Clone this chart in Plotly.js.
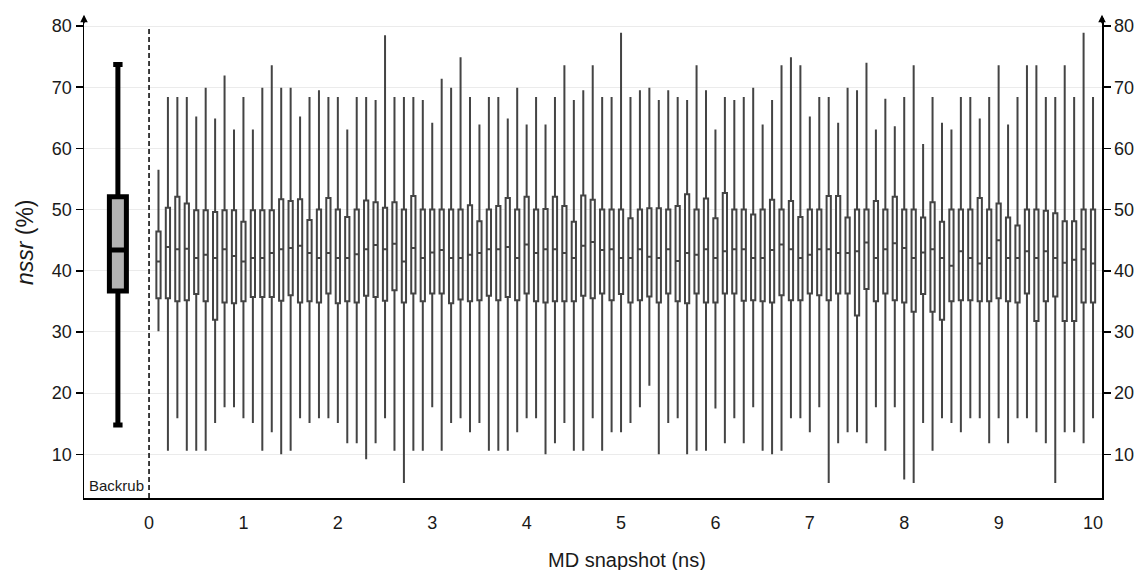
<!DOCTYPE html>
<html>
<head>
<meta charset="utf-8">
<script src="https://cdn.plot.ly/plotly-3.0.1.min.js"></script>
<style>html,body{margin:0;padding:0;background:#fff;}#chart{width:1138px;height:570px;}</style>
</head>
<body>
<div id="chart"></div>
<script>
// MD snapshot times (ns)
const snapshotTimes = [0.1,0.2,0.3,0.4,0.5,0.6,0.7,0.8,0.9,1.0,
  1.1,1.2,1.3,1.4,1.5,1.6,1.7,1.8,1.9,2.0,
  2.1,2.2,2.3,2.4,2.5,2.6,2.7,2.8,2.9,3.0,
  3.1,3.2,3.3,3.4,3.5,3.6,3.7,3.8,3.9,4.0,
  4.1,4.2,4.3,4.4,4.5,4.6,4.7,4.8,4.9,5.0,
  5.1,5.2,5.3,5.4,5.5,5.6,5.7,5.8,5.9,6.0,
  6.1,6.2,6.3,6.4,6.5,6.6,6.7,6.8,6.9,7.0,
  7.1,7.2,7.3,7.4,7.5,7.6,7.7,7.8,7.9,8.0,
  8.1,8.2,8.3,8.4,8.5,8.6,8.7,8.8,8.9,9.0,
  9.1,9.2,9.3,9.4,9.5,9.6,9.7,9.8,9.9,10.0];

const maxVals = [56.5,68.4,68.4,68.4,65.2,69.9,64.9,71.9,63.1,68.4,
  63.1,69.9,73.6,69.9,69.9,65.2,68.4,69.5,68.4,68.4,
  63.1,68.4,68.4,67.9,78.5,68.4,68.4,68.4,67.9,64.2,
  71.4,69.9,74.9,68.4,63.9,68.4,68.4,64.9,69.9,63.9,
  68.4,63.9,68.4,73.6,67.9,69.5,73.6,68.4,68.4,78.9,
  68.4,69.5,69.9,67.9,69.5,68.4,67.9,73.6,69.5,63.1,
  68.4,67.9,68.4,69.9,63.9,67.9,73.6,74.9,73.6,65.2,
  68.4,68.4,64.2,69.9,69.5,74.0,63.1,68.1,63.6,68.4,
  73.6,60.7,68.4,64.2,63.1,68.4,68.4,64.9,68.4,73.6,
  63.9,68.4,73.6,73.6,68.4,68.4,73.6,68.4,78.9,68.4];

const q3Vals = [46.4,50.3,52.1,51.0,49.9,49.9,49.6,49.9,49.9,48.0,
  49.9,49.9,49.9,51.7,51.4,51.7,48.3,50.0,51.9,50.0,
  48.8,50.0,51.5,51.2,50.3,51.2,50.0,52.2,50.0,50.0,
  50.0,50.0,50.0,50.7,48.1,50.0,50.6,51.9,50.0,52.1,
  50.0,50.1,52.1,50.6,48.0,52.3,51.6,50.0,50.0,50.0,
  48.6,50.0,50.2,50.2,50.0,50.6,52.5,50.0,51.8,48.6,
  52.7,50.0,50.0,49.2,50.0,51.6,50.0,51.4,48.8,50.0,
  50.0,52.2,52.2,48.7,50.0,50.0,51.4,50.0,52.1,50.0,
  50.0,48.7,51.2,48.0,50.0,50.0,50.0,51.9,50.0,51.0,
  48.7,47.4,50.0,50.0,49.8,49.4,48.1,48.1,50.0,50.0];

const medianVals = [41.5,43.9,43.5,43.6,42.1,42.6,42.1,43.5,42.4,41.5,
  42.1,42.1,42.9,43.5,43.7,44.1,42.9,42.1,42.9,42.1,
  42.1,42.7,43.5,44.2,43.5,44.4,41.5,43.7,42.1,43.0,
  43.4,42.1,42.1,42.6,42.9,43.5,43.5,43.9,42.1,44.3,
  42.9,43.5,43.5,42.9,42.1,44.1,44.7,43.4,43.5,42.1,
  42.1,43.5,42.3,42.1,43.5,41.6,42.9,42.6,43.5,42.1,
  43.2,43.5,43.5,42.1,42.1,43.4,44.3,43.5,42.1,42.6,
  43.5,43.5,42.9,42.9,43.2,44.6,42.1,43.5,44.5,43.7,
  42.1,43.0,43.5,42.1,40.8,43.2,42.1,41.2,42.1,45.0,
  42.1,42.1,43.2,42.1,43.2,42.1,41.3,41.8,43.5,41.2];

const q1Vals = [35.5,35.5,35.0,35.2,36.2,35.0,32.0,34.8,34.7,35.0,
  35.7,35.7,35.7,35.1,36.0,34.8,35.0,34.8,36.3,34.7,
  35.0,34.8,35.9,35.7,35.1,36.8,34.8,36.3,35.0,36.3,
  36.3,34.7,35.3,35.0,35.2,35.9,35.2,35.7,35.2,36.3,
  35.0,34.8,35.0,35.0,35.0,35.9,35.5,36.3,35.2,36.2,
  34.8,35.2,35.8,34.8,36.3,35.0,34.7,36.3,34.8,34.8,
  36.3,36.3,35.1,35.2,35.0,34.8,36.0,35.2,35.2,36.3,
  36.0,35.2,36.3,36.3,32.7,37.0,35.0,36.3,35.2,34.8,
  33.3,36.2,33.3,32.0,35.0,35.2,35.2,35.0,35.0,35.5,
  35.0,34.8,36.3,31.8,35.0,35.8,31.8,31.8,34.8,34.8];

const minVals = [30.1,10.6,15.9,10.6,10.6,10.6,15.1,17.7,17.7,15.9,
  15.1,10.6,13.6,10.0,10.6,15.9,15.1,15.9,15.9,15.1,
  11.8,11.8,9.2,11.8,15.9,10.6,5.3,10.6,10.6,17.7,
  10.6,15.1,15.9,13.6,15.1,10.6,10.6,10.6,13.6,15.9,
  15.9,10.0,11.8,15.1,10.6,10.6,15.9,10.6,13.6,13.6,
  15.1,17.7,21.2,10.0,15.1,15.9,10.0,10.6,10.6,17.5,
  11.8,15.9,11.8,17.7,10.6,10.0,10.6,15.9,15.9,13.6,
  17.7,5.3,11.8,13.6,13.6,11.8,17.7,10.6,17.7,5.9,
  5.3,15.1,10.6,15.9,15.1,13.6,15.9,15.9,11.8,15.9,
  11.8,15.9,15.9,13.6,11.8,5.3,13.6,13.6,11.8,15.9];

// Backrub reference ensemble
const backrubLabel = ["Backrub"];
const backrubPos = [-0.33];
const backrubMax = [73.7];
const backrubQ3 = [52.1];
const backrubMedian = [43.4];
const backrubQ1 = [36.7];
const backrubMin = [14.8];

const xTicks = [0,1,2,3,4,5,6,7,8,9,10];
const yTicks = [10,20,30,40,50,60,70,80];
const yRange = [2.86, 81.31];

const traces = [
  {
    type: 'box',
    x: snapshotTimes,
    q1: q1Vals, median: medianVals, q3: q3Vals,
    lowerfence: minVals, upperfence: maxVals,
    boxpoints: false,
    width: 0.045,
    whiskerwidth: 0,
    line: {color: '#444444', width: 2},
    fillcolor: '#ffffff',
    hoverinfo: 'skip',
    showlegend: false
  },
  {
    type: 'box',
    x: backrubPos,
    q1: backrubQ1, median: backrubMedian, q3: backrubQ3,
    lowerfence: backrubMin, upperfence: backrubMax,
    boxpoints: false,
    width: 0.18,
    whiskerwidth: 0.55,
    line: {color: '#000000', width: 5},
    fillcolor: '#b3b3b3',
    hoverinfo: 'skip',
    showlegend: false
  },
  {
    type: 'scatter', x: [], y: [], yaxis: 'y2', hoverinfo: 'skip', showlegend: false
  }
];

const layout = {
  width: 1138, height: 570,
  margin: {l: 84, r: 36, t: 18, b: 72, pad: 0},
  paper_bgcolor: '#ffffff', plot_bgcolor: '#ffffff',
  font: {family: 'Liberation Sans, Arial, sans-serif', color: '#000000', size: 18},
  showlegend: false,
  boxmode: 'overlay',
  xaxis: {
    range: [-0.689, 10.095],
    tickvals: xTicks,
    ticks: '',
    ticklabelstandoff: 8,
    showgrid: false, zeroline: false,
    showline: true, linecolor: '#000000', linewidth: 1.5,
    tickfont: {size: 18, color: '#1a1a1a'}
  },
  yaxis: {
    range: yRange,
    tickvals: yTicks,
    ticks: 'outside', ticklen: 7, tickwidth: 1.5, tickcolor: '#000000',
    showgrid: true, gridcolor: '#ebebeb', gridwidth: 1,
    zeroline: false,
    showline: true, linecolor: '#000000', linewidth: 1.5,
    tickfont: {size: 18, color: '#1a1a1a'}
  },
  yaxis2: {
    range: yRange,
    overlaying: 'y', side: 'right', anchor: 'x',
    tickvals: yTicks,
    ticks: 'outside', ticklen: 7, tickwidth: 1.5, tickcolor: '#000000',
    showgrid: false, zeroline: false,
    showline: true, linecolor: '#000000', linewidth: 1.5,
    tickfont: {size: 18, color: '#1a1a1a'}
  },
  shapes: [
    {type: 'line', xref: 'x', yref: 'y', x0: 0, x1: 0, y0: yRange[0], y1: 80,
     line: {color: '#000000', width: 1.5, dash: '5px,3px'}}
  ],
  annotations: [
    {xref: 'x', yref: 'paper', x: backrubPos[0] - 0.02, y: 0.027, text: backrubLabel[0],
     showarrow: false, xanchor: 'center', yanchor: 'middle',
     font: {size: 15, color: '#1a1a1a'}},
    {xref: 'paper', yref: 'paper', x: 0.533, y: -0.129, text: 'MD snapshot (ns)',
     showarrow: false, xanchor: 'center', yanchor: 'middle',
     font: {size: 20, color: '#1a1a1a'}},
    {xref: 'paper', yref: 'paper', x: -0.058, y: 0.533, text: '<i>nssr</i> (%)',
     textangle: -90, showarrow: false, xanchor: 'center', yanchor: 'middle',
     font: {size: 23, color: '#1a1a1a'}},
    {xref: 'paper', yref: 'paper', x: 0, y: 1.007, text: '', showarrow: true,
     ax: 0, ay: 10, arrowhead: 2, arrowsize: 1, arrowwidth: 1.5, arrowcolor: '#000000'},
    {xref: 'paper', yref: 'paper', x: 1, y: 1.007, text: '', showarrow: true,
     ax: 0, ay: 10, arrowhead: 2, arrowsize: 1, arrowwidth: 1.5, arrowcolor: '#000000'}
  ]
};

Plotly.newPlot('chart', traces, layout, {staticPlot: true, displayModeBar: false});
</script>
</body>
</html>
